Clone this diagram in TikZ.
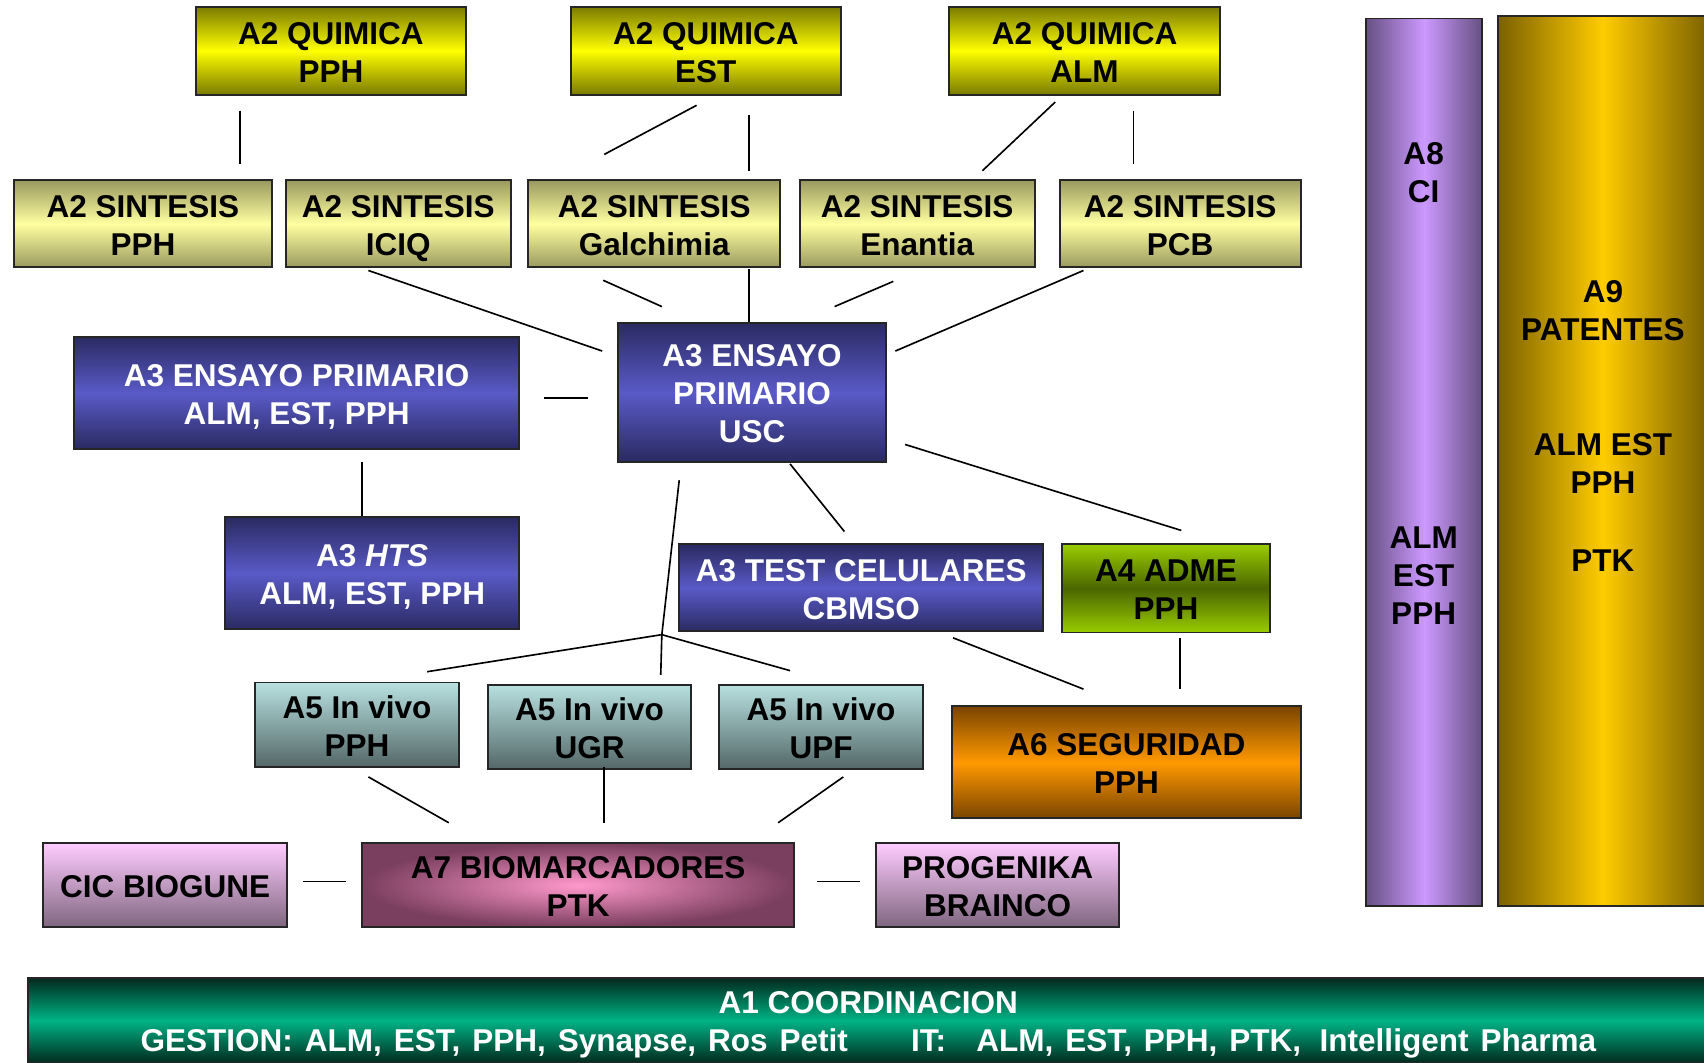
\documentclass[tikz,border=0pt]{standalone}
\usepackage{fontspec}
\usepackage{array}
\setmainfont{Liberation Sans}
\usetikzlibrary{calc}
\definecolor{qedge}{HTML}{7A7A00}
\definecolor{qmid}{HTML}{FFFF00}
\definecolor{sedge}{HTML}{9A9A60}
\definecolor{smid}{HTML}{FFFFA0}
\definecolor{bedge}{HTML}{2A2A62}
\definecolor{bmid}{HTML}{5A5AC8}
\definecolor{gedge}{HTML}{99CC00}
\definecolor{gmid}{HTML}{4A6600}
\definecolor{ttop}{HTML}{B8E0E0}
\definecolor{tbot}{HTML}{536767}
\definecolor{oedge}{HTML}{7A4400}
\definecolor{omid}{HTML}{FF9900}
\definecolor{ptop}{HTML}{FFCCFF}
\definecolor{pbot}{HTML}{7F6680}
\definecolor{rin}{HTML}{FF99CC}
\definecolor{rout}{HTML}{7A3E5E}
\definecolor{vedge}{HTML}{665082}
\definecolor{vmid}{HTML}{CC99FF}
\definecolor{aedge}{HTML}{7A6000}
\definecolor{amid}{HTML}{FFCC00}
\definecolor{cedge}{HTML}{002A1C}
\definecolor{cmid}{HTML}{00B386}
% stacked lines: each row 29pt above and 6pt below its baseline (35pt pitch)
\newcommand\tx[1]{{\renewcommand\arraystretch{0}\setlength\extrarowheight{0pt}%
  \begin{tabular}{@{}>{\rule[-6pt]{0pt}{35pt}}c@{}}#1\end{tabular}}}
\tikzset{
  box/.style={draw=black!85, line width=1.8pt, inner sep=0pt,
    font=\bfseries\fontsize{29}{35}\selectfont, text=black},
  quim/.style={box, top color=qedge, bottom color=qedge, middle color=qmid},
  sint/.style={box, top color=sedge, bottom color=sedge, middle color=smid},
  blu/.style={box, top color=bedge, bottom color=bedge, middle color=bmid, text=white},
  adm/.style={box, top color=gedge, bottom color=gedge, middle color=gmid},
  viv/.style={box, top color=ttop, bottom color=tbot},
  seg/.style={box, top color=oedge, bottom color=oedge, middle color=omid},
  pnk/.style={box, top color=ptop, bottom color=pbot},
  bio/.style={box, inner color=rin, outer color=rout},
  purp/.style={box, left color=vedge, right color=vedge, middle color=vmid},
  gold/.style={box, left color=aedge, right color=aedge, middle color=amid},
  coord/.style={box, top color=cedge, bottom color=cedge, middle color=cmid, text=white},
  txt/.style={inner sep=0pt, font=\bfseries\fontsize{29}{35}\selectfont},
  link/.style={draw=black, line width=1.5pt}
}
\begin{document}
\begin{tikzpicture}[x=1pt, y=-1pt]
\useasboundingbox (0,0) rectangle (1568,978);
% tall bars
\node[purp, minimum width=107pt, minimum height=817pt] (a8) at (1310.5,425.5) {};
\node[txt] (a8t1) at (1310,157.5) {\tx{A8\\CI}};
\node[txt] (a8t2) at (1310,528) {\tx{ALM\\EST\\PPH}};
\node[gold, minimum width=194pt, minimum height=819pt] (a9) at (1475,424.5) {};
\node[txt] (a9t1) at (1475,284.5) {\tx{A9\\PATENTES}};
\node[txt] (a9t2) at (1475,425.5) {\tx{ALM EST\\PPH}};
\node[txt] (a9t3) at (1475,514) {\tx{PTK}};
% A2 quimica
\node[quim, minimum width=249pt, minimum height=81pt] (qpph) at (304.5,46.5) {\tx{A2 QUIMICA\\PPH}};
\node[quim, minimum width=249pt, minimum height=81pt] (qest) at (649.5,46.5) {\tx{A2 QUIMICA\\EST}};
\node[quim, minimum width=250pt, minimum height=81pt] (qalm) at (998,46.5) {\tx{A2 QUIMICA\\ALM}};
% A2 sintesis
\node[sint, minimum width=237pt, minimum height=80pt] (spph) at (131.5,206) {\tx{A2 SINTESIS\\PPH}};
\node[sint, minimum width=207pt, minimum height=80pt] (siciq) at (366.5,206) {\tx{A2 SINTESIS\\ICIQ}};
\node[sint, minimum width=232pt, minimum height=80pt] (sgal) at (602,206) {\tx{A2 SINTESIS\\Galchimia}};
\node[sint, minimum width=216pt, minimum height=80pt] (sena) at (844,206) {\tx{A2 SINTESIS\\Enantia}};
\node[sint, minimum width=222pt, minimum height=80pt] (spcb) at (1086,206) {\tx{A2 SINTESIS\\PCB}};
% A3
\node[blu, minimum width=410pt, minimum height=103pt] (epalm) at (273,361.5) {\tx{A3 ENSAYO PRIMARIO\\ALM, EST, PPH}};
\node[blu, minimum width=246pt, minimum height=128pt] (usc) at (692,361) {\tx{A3 ENSAYO\\PRIMARIO\\USC}};
\node[blu, minimum width=271pt, minimum height=103pt] (hts) at (342.5,527.5) {\tx{A3 \textit{HTS}\\ALM, EST, PPH}};
\node[blu, minimum width=335pt, minimum height=80pt] (cel) at (792.5,541) {\tx{A3 TEST CELULARES\\CBMSO}};
\node[adm, minimum width=192pt, minimum height=81pt] (adme) at (1073,541.5) {\tx{A4 ADME\\PPH}};
% A5
\node[viv, minimum width=187pt, minimum height=78pt] (v1) at (328.5,667) {\tx{A5 In vivo\\PPH}};
\node[viv, minimum width=187pt, minimum height=78pt] (v2) at (542.5,669) {\tx{A5 In vivo\\UGR}};
\node[viv, minimum width=187pt, minimum height=78pt] (v3) at (755.5,669) {\tx{A5 In vivo\\UPF}};
% A6
\node[seg, minimum width=321pt, minimum height=103pt] (a6) at (1036.5,701.5) {\tx{A6 SEGURIDAD\\PPH}};
% A7 row
\node[pnk, minimum width=224pt, minimum height=77pt] (cic) at (152,814.5) {\tx{CIC BIOGUNE}};
\node[bio, minimum width=398pt, minimum height=77pt] (a7) at (532,814.5) {\tx{A7 BIOMARCADORES\\PTK}};
\node[pnk, minimum width=224pt, minimum height=77pt] (prog) at (918,814.5) {\tx{PROGENIKA\\BRAINCO}};
% A1
\node[coord, minimum width=1546pt, minimum height=78pt] (a1) at (799,939) {\tx{A1 COORDINACION\\{\spaceskip=11pt GESTION: ALM, EST, PPH, Synapse, Ros Petit\hspace{58pt}IT:\hspace{28pt}ALM, EST, PPH, PTK,\hspace{17pt}Intelligent Pharma}}};
% connectors
\coordinate (fork) at (609,584);
\draw[link] ($(qpph.south)+(-83.5,14)$) -- ($(spph.north)+(89.5,-14)$);
\draw[link] ($(qest.south)+(-8.5,9)$) -- ($(sgal.north)+(-46,-23)$);
\draw[link] ($(qest.south)+(39.5,18)$) -- ($(sgal.north)+(87,-8)$);
\draw[link] ($(qalm.south)+(-27,6)$) -- ($(sena.north)+(60,-8)$);
\draw[link] ($(qalm.south)+(45,14)$) -- ($(spcb.north)+(-43,-14)$);
\draw[link] ($(siciq.south)+(-27.5,2)$) -- ($(usc.west)+(-14,-38)$);
\draw[link] ($(sgal.south)+(-47,11)$) -- ($(usc.north)+(-83,-14)$);
\draw[link] ($(sgal.south)+(87,1)$) -- ($(usc.north)+(-3,0)$);
\draw[link] ($(sena.south)+(-22,12)$) -- ($(usc.north)+(76,-14)$);
\draw[link] ($(spcb.south)+(-89,2)$) -- ($(usc.east)+(8,-38)$);
\draw[link] ($(epalm.east)+(22,4.5)$) -- ($(usc.west)+(-27,5)$);
\draw[link] ($(epalm.south)+(60,11)$) -- ($(hts.north)+(-9.5,0)$);
\draw[link] ($(usc.south)+(35,1)$) -- ($(cel.north)+(-15.5,-11)$);
\draw[link] ($(usc.east)+(17,48)$) -- ($(adme.north)+(14,-12)$);
\draw[link] ($(usc.south)+(-67,16)$) -- (fork);
\draw[link] (fork) -- ($(v1.north)+(64.5,-9)$);
\draw[link] (fork) -- ($(v2.north)+(65.5,-8)$);
\draw[link] (fork) -- ($(v3.north)+(-28.5,-12)$);
\draw[link] ($(v1.south)+(10.5,8)$) -- ($(a7.north)+(-119,-18)$);
\draw[link] ($(v2.south)+(13.5,-3)$) -- ($(a7.north)+(24,-18)$);
\draw[link] ($(v3.south)+(20.5,6)$) -- ($(a7.north)+(184,-18)$);
\draw[link] ($(cic.east)+(14,-3.5)$) -- ($(a7.west)+(-14,-3.5)$);
\draw[link] ($(a7.east)+(20,-3.5)$) -- ($(prog.west)+(-14,-3.5)$);
\draw[link] ($(cel.south)+(84.5,5)$) -- ($(a6.north)+(-39.5,-15)$);
\draw[link] ($(adme.south)+(13,4)$) -- ($(a6.north)+(49.5,-15)$);
\end{tikzpicture}
\end{document}
